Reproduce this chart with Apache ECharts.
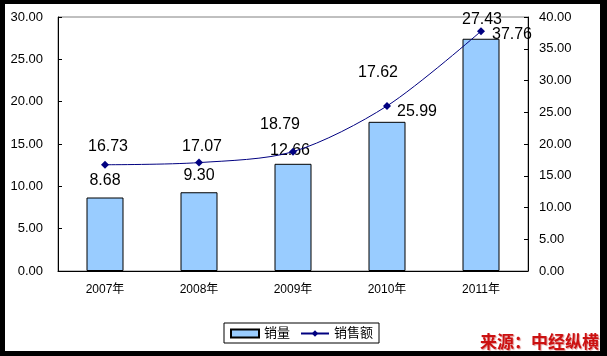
<!DOCTYPE html>
<html>
<head>
<meta charset="utf-8">
<script src="https://cdn.jsdelivr.net/npm/echarts@6/dist/echarts.min.js"></script>
<style>
  html, body { margin: 0; padding: 0; background: #000; }
  #bg { position: absolute; left: 5px; top: 4px; width: 595px; height: 347px; background: #fff; }
  #chart { position: absolute; left: 0; top: 0; width: 607px; height: 356px; }
</style>
</head>
<body>
<div id="bg"></div>
<div id="chart"></div>
<script>
const categories = ['2007年', '2008年', '2009年', '2010年', '2011年'];
const salesVolume = [8.68, 9.30, 12.66, 17.62, 27.43];
const salesAmount = [16.73, 17.07, 18.79, 25.99, 37.76];
const seriesNames = ['销量', '销售额'];
const sourceText = '来源：中经纵横';

const barLabelOffsets = [[0, -4], [0, -4], [-3, 0], [-9, -36], [1, -6]];
const lineLabelOffsets = [[3, -18], [3, -16], [-13, -27], [30, 6], [31, 3]];

const FONT = '"Liberation Sans", Arial, "Noto Sans CJK SC", sans-serif';
const chart = echarts.init(document.getElementById('chart'), null, { renderer: 'canvas' });

const option = {
  backgroundColor: 'transparent',
  animation: false,
  textStyle: { fontFamily: FONT },
  grid: {
    left: 58, right: 79, top: 17, bottom: 85,
    show: true, borderColor: '#808080', borderWidth: 1, backgroundColor: 'transparent'
  },
  legend: {
    left: 224, top: 323,
    borderColor: '#000', borderWidth: 1,
    padding: [4, 6, 3, 6],
    itemGap: 10, itemWidth: 28, itemHeight: 8,
    textStyle: { fontSize: 13, color: '#000', fontFamily: FONT },
    data: [
      { name: seriesNames[0], icon: 'rect' },
      { name: seriesNames[1] }
    ]
  },
  xAxis: {
    type: 'category',
    data: categories,
    axisLine: { lineStyle: { color: '#000', width: 1 } },
    axisTick: { inside: true, length: 4, lineStyle: { color: '#000' } },
    axisLabel: { fontSize: 12, color: '#000', margin: 13, fontFamily: FONT }
  },
  yAxis: [
    {
      type: 'value', min: 0, max: 30, interval: 5, position: 'left',
      axisLine: { show: true, lineStyle: { color: '#000' } },
      axisTick: { show: true, inside: true, length: 4, lineStyle: { color: '#000' } },
      splitLine: { show: false },
      axisLabel: { fontSize: 13, color: '#000', margin: 15, fontFamily: FONT,
        formatter: v => v.toFixed(2) }
    },
    {
      type: 'value', min: 0, max: 40, interval: 5, position: 'right',
      axisLine: { show: true, lineStyle: { color: '#000' } },
      axisTick: { show: true, inside: true, length: 4, lineStyle: { color: '#000' } },
      splitLine: { show: false },
      axisLabel: { fontSize: 13, color: '#000', margin: 11, fontFamily: FONT,
        formatter: v => v.toFixed(2) }
    }
  ],
  series: [
    {
      name: seriesNames[0],
      type: 'bar',
      yAxisIndex: 0,
      barWidth: 37,
      itemStyle: { color: '#99ccff', borderColor: '#000', borderWidth: 1 },
      data: salesVolume.map((v, i) => ({
        value: v,
        label: { offset: barLabelOffsets[i] }
      })),
      label: {
        show: true, position: 'top', distance: 5,
        fontSize: 16, color: '#000', fontFamily: FONT,
        formatter: p => p.value.toFixed(2)
      },
      z: 2
    },
    {
      name: seriesNames[1],
      type: 'line',
      yAxisIndex: 1,
      smooth: 0.3,
      symbol: 'diamond',
      symbolSize: 8,
      lineStyle: { color: '#000080', width: 1 },
      itemStyle: { color: '#000080' },
      data: salesAmount.map((v, i) => ({
        value: v,
        label: { offset: lineLabelOffsets[i] }
      })),
      label: {
        show: true, position: 'inside',
        fontSize: 16, color: '#000', fontFamily: FONT,
        formatter: p => p.value.toFixed(2)
      },
      z: 3
    }
  ],
  graphic: [
    {
      type: 'text',
      right: 8, top: 333,
      style: {
        text: sourceText,
        fill: '#cc1111',
        font: 'bold 17px "Noto Sans CJK SC", sans-serif',
        textShadowColor: 'rgba(200,80,80,0.6)',
        textShadowOffsetX: 1, textShadowOffsetY: 1, textShadowBlur: 1
      }
    }
  ]
};
chart.setOption(option);
</script>
</body>
</html>
